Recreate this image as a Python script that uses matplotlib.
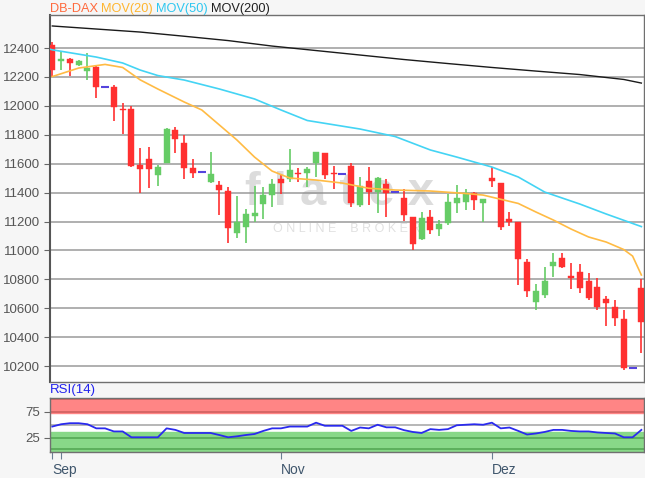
import matplotlib
matplotlib.use("Agg")
import matplotlib.pyplot as plt
import numpy as np

plt.rcParams['font.family'] = ['Liberation Sans', 'DejaVu Sans']

# ---- data ----
opens = [12419, 12308, 12322, 12283, 12239, 12271, 12133, 12129, 11981, 11981,
         11593, 11632, 11522, 11605, 11831, 11741, 11567, 11540, 11475, 11450,
         11408, 11122, 11164, 11238, 11321, 11385, 11492, 11494, 11538, 11539,
         11607, 11676, 11533, 11527, 11584, 11314, 11477, 11406, 11458, 11404,
         11365, 11229, 11077, 11233, 11150, 11187, 11326, 11337, 11395, 11330,
         11499, 11464, 11214, 11199, 10922, 10645, 10691, 10892, 10945, 10821,
         10853, 10788, 10745, 10664, 10606, 10523, 10184, 10738]
highs = [12442, 12382, 12329, 12318, 12364, 12285, 12133, 12147, 12022, 11999,
         11706, 11713, 11591, 11849, 11857, 11799, 11632, 11540, 11681, 11477,
         11441, 11376, 11290, 11449, 11442, 11492, 11529, 11700, 11568, 11579,
         11683, 11677, 11581, 11527, 11605, 11506, 11575, 11506, 11492, 11404,
         11428, 11233, 11266, 11280, 11210, 11390, 11453, 11423, 11406, 11354,
         11575, 11468, 11268, 11199, 10938, 10765, 10887, 10979, 10985, 10913,
         10906, 10841, 10809, 10688, 10657, 10590, 10184, 10800]
lows = [12198, 12248, 12207, 12276, 12179, 12057, 12133, 11897, 11805, 11580,
        11395, 11430, 11446, 11603, 11676, 11494, 11501, 11540, 11468, 11245,
        11049, 11084, 11049, 11196, 11215, 11302, 11390, 11473, 11475, 11441,
        11510, 11492, 11423, 11527, 11300, 11300, 11314, 11257, 11233, 11404,
        11202, 11005, 11072, 11113, 11103, 11176, 11257, 11280, 11280, 11199,
        11437, 11141, 11171, 10761, 10680, 10588, 10668, 10819, 10876, 10735,
        10703, 10657, 10588, 10477, 10477, 10176, 10184, 10290]
closes = [12248, 12327, 12299, 12311, 12262, 12129, 12133, 11990, 11972, 11584,
          11561, 11561, 11575, 11840, 11769, 11570, 11538, 11540, 11527, 11418,
          11157, 11200, 11250, 11261, 11383, 11457, 11464, 11558, 11527, 11561,
          11683, 11522, 11527, 11527, 11330, 11446, 11406, 11499, 11397, 11404,
          11245, 11041, 11224, 11143, 11183, 11335, 11360, 11399, 11349, 11354,
          11480, 11164, 11200, 10940, 10721, 10721, 10788, 10922, 10883, 10810,
          10743, 10674, 10608, 10636, 10530, 10183, 10184, 10504]

ma20_idx = [0, 3, 6, 8, 10, 12, 15, 17, 19, 21, 23, 25, 27, 30, 33, 36, 39, 43,
            47, 49, 51, 53, 55, 57, 59, 61, 63, 65, 66, 67]
ma20 = [12203, 12262, 12287, 12266, 12180, 12117, 12027, 11972, 11868, 11764,
        11646, 11549, 11501, 11487, 11466, 11430, 11418, 11411, 11394, 11383,
        11354, 11325, 11266, 11210, 11148, 11093, 11058, 11006, 10961, 10830]
ma50_idx = [-0.4, 0, 5, 8, 10, 12, 15, 19, 23, 26, 29, 35, 39, 43, 46, 50, 53,
            56, 60, 63, 67]
ma50 = [12395, 12388, 12338, 12297, 12248, 12210, 12179, 12117, 12048, 11972,
        11899, 11840, 11788, 11695, 11646, 11577, 11508, 11404, 11321, 11252, 11165]
ma200_idx = [0, 5, 10, 15, 20, 25, 30, 35, 40, 45, 50, 55, 60, 65, 67]
ma200 = [12553, 12532, 12511, 12482, 12452, 12414, 12383, 12352, 12321, 12293,
         12266, 12241, 12217, 12183, 12158]

rsi = [46.5, 51, 53, 53, 51, 43, 43, 37, 37, 25.6, 25.6, 25.6, 25.6, 43, 40, 34,
       34, 34, 34, 30, 25.6, 27.5, 30, 32, 38, 43, 43, 46.5, 46.5, 46.5, 54, 48,
       48, 48, 38, 44.6, 43, 50, 45, 45, 39.5, 36, 34, 41.5, 40, 41.5, 49, 50,
       51, 50, 54, 43, 44.6, 38, 31, 33, 36, 40, 40, 38, 37, 37, 35, 34, 33,
       25.6, 25.6, 40]

yticks = [10200, 10400, 10600, 10800, 11000, 11200, 11400, 11600, 11800,
          12000, 12200, 12400]
xtick_pos = [0, 1, 26, 50]
xtick_lab = ["Sep", "", "Nov", "Dez"]
legend_parts = [("DB-DAX ", "#ff6a3d"), ("MOV(20) ", "#ffb52e"),
                ("MOV(50) ", "#2ec7f0"), ("MOV(200)", "#202020")]

# ---- figure ----
W, H = 645, 478
fig = plt.figure(figsize=(W / 100, H / 100), dpi=100)
fig.patch.set_facecolor("#f6f6f6")

def box(l, t, r, b):
    return [l / W, 1 - b / H, (r - l) / W, (b - t) / H]

ax = fig.add_axes(box(49.5, 15, 644, 381.5))
ax.set_facecolor("white")
n = len(opens)
x = np.arange(n)
ax.set_xlim(-0.32, 67.3)
ax.set_ylim(10093, 12629)

for yv in yticks:
    ax.axhline(yv, color="#a9a9a9", lw=1.3, zorder=1)

# watermark
ax.text(32.7, 11314, "f l a t e x", fontsize=34, color="#8c8c8c", alpha=0.3,
        ha="center", va="baseline", zorder=1.5, fontweight="bold")
ax.text(33.5, 11150, "O N L I N E    B R O K E R", fontsize=9, color="#9a9a9a",
        alpha=0.3, ha="center", va="center", zorder=1.5)

red, green, doji = "#ff3030", "#66cc66", "#5544dd"
bw = 0.68
for i in range(n):
    o, h, l, c = opens[i], highs[i], lows[i], closes[i]
    if c > o:
        col = green
    elif c < o:
        col = red
    else:
        col = doji
    if col != doji:
        ax.vlines(i, l, h, color=col, lw=1.2, zorder=3)
        ax.bar(i, max(abs(c - o), 8), bottom=min(o, c), width=bw, color=col,
               edgecolor=col, lw=0.3, zorder=4)
    else:
        ax.hlines(o, i - 0.45, i + 0.45, color=col, lw=1.5, zorder=4)

ax.plot(ma20_idx, ma20, color="#ffbb44", lw=1.2, zorder=5)
ax.plot(ma50_idx, ma50, color="#44d4f4", lw=1.2, zorder=5)
ax.plot(ma200_idx, ma200, color="#1a1a1a", lw=1.0, zorder=5)

ax.set_yticks(yticks)
ax.set_yticklabels([str(v) for v in yticks])
ax.tick_params(axis="y", length=4, color="#666666", labelcolor="#555555",
               labelsize=9.5, pad=3)
ax.set_xticks([])
for s in ax.spines.values():
    s.set_color("#707070")
    s.set_linewidth(1.0)
ax.spines["left"].set_color("#555555")
ax.spines["left"].set_linewidth(1.5)

# legend title
r = fig.canvas.get_renderer()
tx = 49.5 / W
ty = 1 - 9 / H
for txt, colr in legend_parts:
    t = fig.text(tx, ty, txt, color=colr, fontsize=9.2, va="center", ha="left")
    bb = t.get_window_extent(renderer=r)
    tx += bb.width / W

# ---- RSI ----
ax2 = fig.add_axes(box(49.5, 397.5, 644, 452))
ax2.set_facecolor("white")
ax2.set_xlim(-0.32, 67.3)
ax2.set_ylim(-3, 103)
ax2.axhspan(73, 103, color="#ff8585", zorder=1)
ax2.axhspan(-3, 35, color="#88d888", zorder=1)
ax2.axhline(75, color="#d06060", lw=1.2, zorder=2)
ax2.axhline(100, color="#d06060", lw=1.2, zorder=2)
ax2.axhline(25, color="#55a855", lw=1.2, zorder=2)
ax2.axhline(3, color="#55a855", lw=1.2, zorder=2)
ax2.axhline(50, color="#aaaaaa", lw=1.2, zorder=2)
ax2.plot(x, rsi, color="#2a2aee", lw=1.3, zorder=3)
ax2.set_yticks([25, 75])
ax2.set_yticklabels(["25", "75"])
ax2.tick_params(axis="y", length=4, color="#666666", labelcolor="#555555",
                labelsize=9.5, pad=3)
ax2.set_xticks(xtick_pos)
ax2.set_xticklabels(xtick_lab, ha="left")
ax2.tick_params(axis="x", length=5, color="#6a7f92", labelcolor="#3f566c",
                labelsize=10, pad=3)
for s in ax2.spines.values():
    s.set_color("#707070")
    s.set_linewidth(1.0)
fig.text(49.5 / W, 1 - 390 / H, "RSI(14)", color="#2222ee", fontsize=9.5,
         va="center", ha="left")

fig.savefig("out.png", dpi=100, facecolor=fig.get_facecolor())
